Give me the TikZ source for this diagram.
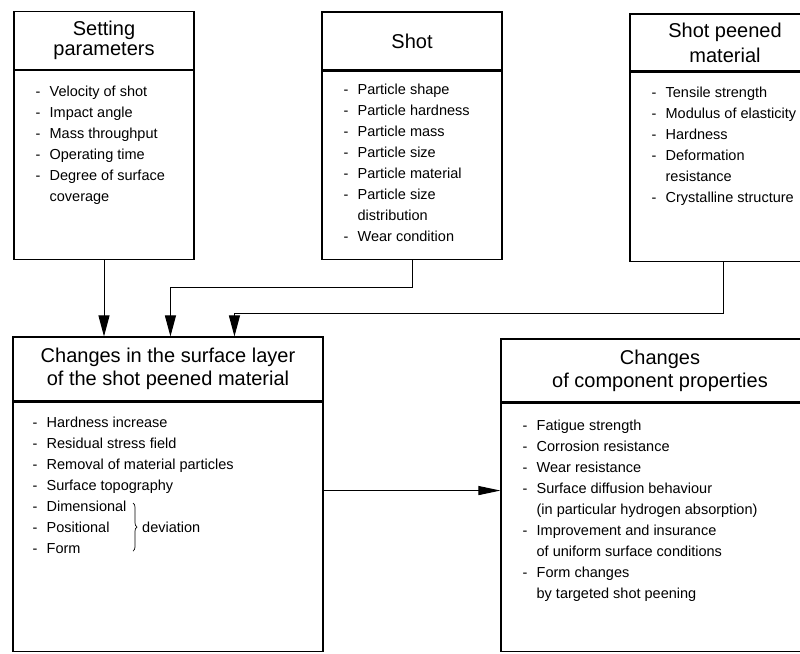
\documentclass[tikz,border=0pt]{standalone}
\usepackage{fontspec}
\setmainfont{Liberation Sans}
\usetikzlibrary{arrows.meta,positioning,decorations.pathreplacing}

\newcommand{\itm}{\makebox[14pt][l]{-}}
\newcommand{\cnt}{\hspace*{14pt}}

\begin{document}
\begin{tikzpicture}[
  x=1pt, y=-1pt,
  headbox/.style={draw, line width=1.1pt, inner sep=0pt, align=center,
    font=\fontsize{20}{23}\selectfont},
  bodybox/.style={draw, line width=1.1pt, inner sep=0pt},
  items/.style={anchor=north west, inner sep=0pt, align=left,
    font=\fontsize{14.5}{21}\selectfont},
  flow/.style={line width=1pt, -{Triangle[length=21pt,width=11pt]}},
  flowh/.style={line width=1pt, -{Triangle[length=22pt,width=9pt]}},
  ]
\useasboundingbox (0,0) rectangle (800,653);
\clip (0,0) rectangle (800,653);

% top row
\node[headbox, minimum width=180pt, minimum height=58pt,
  font=\fontsize{20}{20.5}\selectfont] (setT) at (104,40.5) {Setting\\parameters};
\node[bodybox, minimum width=180pt, minimum height=189pt, below=0pt of setT] (setB) {};
\node[items] (setL) at ([xshift=22pt,yshift=-15.5pt]setB.north west)
  {\itm Velocity of shot\\\itm Impact angle\\\itm Mass throughput\\\itm Operating time\\
   \itm Degree of surface\\\cnt coverage};

\node[headbox, minimum width=180pt, minimum height=58pt] (shotT) at (412,41) {Shot};
\node[bodybox, minimum width=180pt, minimum height=188pt, below=0pt of shotT] (shotB) {};
\node[items] (shotL) at ([xshift=22pt,yshift=-13.5pt]shotB.north west)
  {\itm Particle shape\\\itm Particle hardness\\\itm Particle mass\\\itm Particle size\\
   \itm Particle material\\\itm Particle size\\\cnt distribution\\\itm Wear condition};

\node[headbox, minimum width=190pt, minimum height=57pt,
  font=\fontsize{20}{25}\selectfont] (matT) at (725,42.5) {Shot peened\\material};
\node[bodybox, minimum width=190pt, minimum height=189pt, below=0pt of matT] (matB) {};
\node[items] (matL) at ([xshift=22pt,yshift=-15.5pt]matB.north west)
  {\itm Tensile strength\\\itm Modulus of elasticity\\\itm Hardness\\\itm Deformation\\
   \cnt resistance\\\itm Crystalline structure};

% bottom row
\node[headbox, minimum width=310pt, minimum height=64pt] (chgT) at (168,369)
  {Changes in the surface layer\\of the shot peened material};
\node[bodybox, minimum width=310pt, minimum height=249pt, below=0pt of chgT] (chgB) {};
\node[items] (chgL) at ([xshift=20pt,yshift=-15.5pt]chgB.north west)
  {\itm Hardness increase\\\itm Residual stress field\\\itm Removal of material particles\\
   \itm Surface topography\\\itm Dimensional\\\itm Positional\\\itm Form};
\draw[line width=0.7pt, decorate, decoration={brace, amplitude=4pt}] (133,503) -- (133,551);
\node[anchor=base west, inner sep=0pt, font=\fontsize{14.5}{21}\selectfont] (devL) at (142,532) {deviation};

\node[headbox, minimum width=318pt, minimum height=63pt] (propT) at (660,370.5)
  {Changes\\of component properties};
\node[bodybox, minimum width=318pt, minimum height=248pt, below=0pt of propT] (propB) {};
\node[items] (propL) at ([xshift=22pt,yshift=-17.5pt]propB.north west)
  {\itm Fatigue strength\\\itm Corrosion resistance\\\itm Wear resistance\\
   \itm Surface diffusion behaviour\\\cnt (in particular hydrogen absorption)\\
   \itm Improvement and insurance\\\cnt of uniform surface conditions\\
   \itm Form changes\\\cnt by targeted shot peening};

% connectors
\draw[flow] (setB.south) -- (setB.south |- chgT.north);
\draw[flow] (shotB.south) -- ++(0,28) -| ([xshift=158pt]chgT.north west);
\draw[flow] ([xshift=-2pt]matB.south) -- ++(0,52) -| ([xshift=222pt]chgT.north west);
\draw[flowh] ([yshift=-89pt]chgB.north east) -- ([yshift=-89pt]chgB.north east -| propB.west);
\end{tikzpicture}
\end{document}
